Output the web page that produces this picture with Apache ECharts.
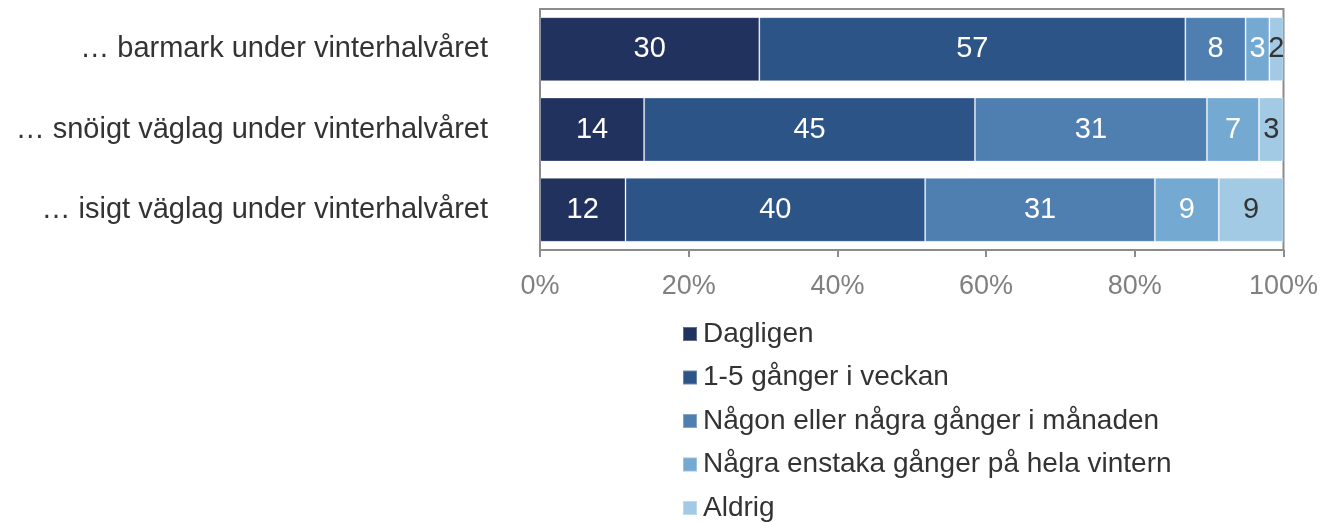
<!DOCTYPE html>
<html>
<head>
<meta charset="utf-8">
<script src="https://cdn.jsdelivr.net/npm/echarts@6/dist/echarts.min.js"></script>
<style>
html,body{margin:0;padding:0;background:#fff;}
#chart{width:1332px;height:522px;}
</style>
</head>
<body>
<div id="chart"></div>
<script>
const categories = ['… barmark under vinterhalvåret', '… snöigt väglag under vinterhalvåret', '… isigt väglag under vinterhalvåret'];
const seriesNames = ['Dagligen', '1-5 gånger i veckan', 'Någon eller några gånger i månaden', 'Några enstaka gånger på hela vintern', 'Aldrig'];
const dagligen = [29.5, 14.0, 11.5];
const veckan = [57.3, 44.5, 40.3];
const manaden = [8.1, 31.2, 30.9];
const vintern = [3.2, 7.0, 8.6];
const aldrig = [1.9, 3.3, 8.7];
const xTicks = [0, 20, 40, 60, 80, 100];

const colors = ['#21325e', '#2c5486', '#4f7fb0', '#74a9d1', '#a3cae4'];
const labelColors = ['#ffffff', '#ffffff', '#ffffff', '#ffffff', '#333333'];
const allData = [dagligen, veckan, manaden, vintern, aldrig];
const FONT = '"Liberation Sans", Arial, sans-serif';

const chart = echarts.init(document.getElementById('chart'));
chart.setOption({
  animation: false,
  textStyle: { fontFamily: FONT },
  grid: {
    left: 540, right: 48.5, top: 9, bottom: 272,
    show: true, borderColor: '#8c8c8c', borderWidth: 2
  },
  legend: {
    orient: 'vertical',
    left: 682, top: 320, height: 300, padding: 0,
    itemWidth: 14, itemHeight: 14, itemGap: 15.5,
    icon: 'rect',
    data: seriesNames,
    textStyle: { fontSize: 28, color: '#333333', lineHeight: 28, fontFamily: FONT, padding: [0, 0, 0, 1] }
  },
  xAxis: {
    type: 'value', min: xTicks[0], max: xTicks[xTicks.length - 1], interval: 20,
    axisLine: { show: true, lineStyle: { color: '#8c8c8c', width: 2 } },
    axisTick: { show: true, length: 7, lineStyle: { color: '#8c8c8c', width: 2 } },
    splitLine: { show: false },
    axisLabel: { fontSize: 27, color: '#808080', margin: 23, formatter: v => v + '%', fontFamily: FONT }
  },
  yAxis: {
    type: 'category', data: categories, inverse: true,
    axisLine: { show: true, lineStyle: { color: '#8c8c8c', width: 2 } },
    axisTick: { show: false },
    axisLabel: { fontSize: 29, color: '#333333', margin: 52, fontFamily: FONT }
  },
  series: seriesNames.map((name, i) => ({
    name: name,
    type: 'bar',
    stack: 'total',
    barWidth: 64,
    data: allData[i],
    itemStyle: { color: colors[i], borderColor: 'rgba(255,255,255,0.3)', borderWidth: 1 },
    label: {
      show: true, position: 'inside', color: labelColors[i], fontSize: 29, fontFamily: FONT,
      formatter: p => Math.round(p.value)
    },
    labelLayout: { hideOverlap: false }
  }))
});
</script>
</body>
</html>
